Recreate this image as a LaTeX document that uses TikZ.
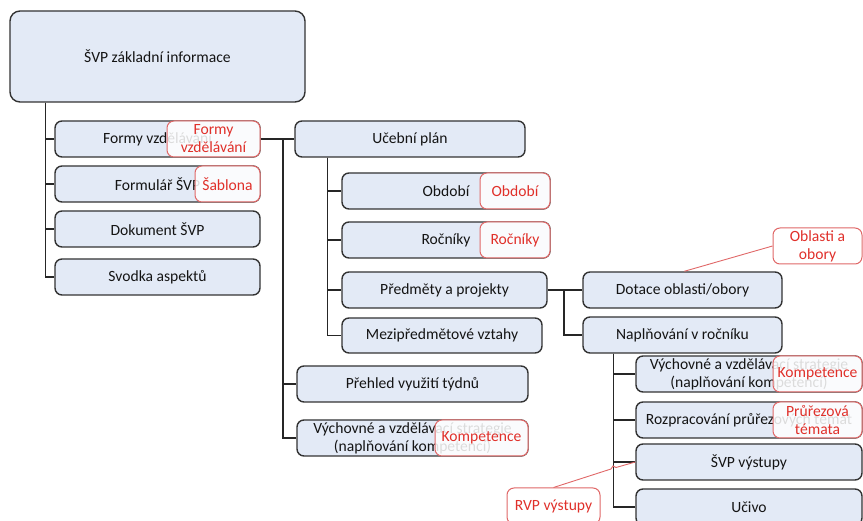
\documentclass[tikz,border=0pt]{standalone}
\usepackage{fontspec}
\setmainfont{Carlito}
\definecolor{boxfill}{HTML}{E3EAF6}
\definecolor{boxline}{HTML}{333333}
\definecolor{redtext}{HTML}{E0302A}
\definecolor{redline}{HTML}{E06868}
\begin{document}
\begin{tikzpicture}[x=1pt,y=-1pt,
  every node/.style={font=\fontsize{15.6}{18}\selectfont},
  box/.style={draw=boxline, fill=boxfill, line width=1.4pt, rounded corners=7pt, inner sep=0pt, align=center, text=black!92},
  callout/.style={draw=redline, fill=white, fill opacity=0.85, text opacity=1, line width=1pt, rounded corners=7pt, inner sep=0pt, align=center, text=redtext},
  conn/.style={draw=black!85, line width=1.4pt},
  redconn/.style={draw=redline, line width=0.9pt}]
\useasboundingbox (0,0) rectangle (863,521);

% main boxes
\node[box, rounded corners=10pt, minimum width=295pt, minimum height=91pt] (top) at (157.5,56.5) {ŠVP základní informace};
\node[box, minimum width=205pt, minimum height=36pt] (forms) at (157.5,139) {Formy vzdělávání};
\node[box, minimum width=205pt, minimum height=36pt] (formular) at (157.5,184) {Formulář ŠVP};
\node[box, minimum width=205pt, minimum height=36pt] (dokument) at (157.5,229) {Dokument ŠVP};
\node[box, minimum width=205pt, minimum height=36pt] (svodka) at (157.5,277) {Svodka aspektů};

\node[box, minimum width=230pt, minimum height=36pt] (ucebni) at (410,139) {Učební plán};
\node[box, minimum width=208pt, minimum height=36pt] (obdobi) at (446,191) {Období};
\node[box, minimum width=208pt, minimum height=36pt] (rocniky) at (446,240) {Ročníky};
\node[box, minimum width=205pt, minimum height=36pt] (predmety) at (444.5,290) {Předměty a projekty};
\node[box, minimum width=200pt, minimum height=35pt] (mezi) at (442,335.5) {Mezipředmětové vztahy};
\node[box, minimum width=231pt, minimum height=36pt] (prehled) at (412.5,384) {Přehled využití týdnů};
\node[box, minimum width=231pt, minimum height=36pt] (vychL) at (412.5,438) {Výchovné a vzdělávací strategie\\(naplňování kompetencí)};

\node[box, minimum width=199pt, minimum height=36pt] (dotace) at (682.5,290) {Dotace oblasti/obory};
\node[box, minimum width=199pt, minimum height=36pt] (napl) at (682.5,335) {Naplňování v ročníku};
\node[box, minimum width=226pt, minimum height=36pt] (vychR) at (749,374) {Výchovné a vzdělávací strategie\\(naplňování kompetencí)};
\node[box, minimum width=226pt, minimum height=36pt] (rozp) at (749,420) {Rozpracování průřezových témat};
\node[box, minimum width=226pt, minimum height=36pt] (svpv) at (749,462) {ŠVP výstupy};
\node[box, minimum width=226pt, minimum height=36pt] (ucivo) at (749,507) {Učivo};

% connectors
\draw[conn] ([xshift=36pt]top.south west) |- (forms.west);
\draw[conn] ([xshift=36pt]top.south west) |- (formular.west);
\draw[conn] ([xshift=36pt]top.south west) |- (dokument.west);
\draw[conn] ([xshift=36pt]top.south west) |- (svodka.west);

\draw[conn] (forms.east) -- (ucebni.west);
\coordinate (j1) at (283,139);
\draw[conn] (j1) |- (prehled.west);
\draw[conn] (j1) |- (vychL.west);

\draw[conn] ([xshift=33pt]ucebni.south west) |- (obdobi.west);
\draw[conn] ([xshift=33pt]ucebni.south west) |- (rocniky.west);
\draw[conn] ([xshift=33pt]ucebni.south west) |- (predmety.west);
\draw[conn] ([xshift=33pt]ucebni.south west) |- (mezi.west);

\draw[conn] (predmety.east) -- (dotace.west);
\coordinate (j2) at (564,290);
\draw[conn] (j2) |- (napl.west);

\draw[conn] ([xshift=31pt]napl.south west) |- (vychR.west);
\draw[conn] ([xshift=31pt]napl.south west) |- (rozp.west);
\draw[conn] ([xshift=31pt]napl.south west) |- (svpv.west);
\draw[conn] ([xshift=31pt]napl.south west) |- (ucivo.west);

% callouts
\node[callout, minimum width=93pt, minimum height=36pt] (cformy) at (213.5,139) {Formy\\vzdělávání};
\node[callout, minimum width=65pt, minimum height=36pt] (csablona) at (227.5,184) {Šablona};
\node[callout, minimum width=70pt, minimum height=36pt] (cobdobi) at (515,191) {Období};
\node[callout, minimum width=70pt, minimum height=36pt] (crocniky) at (515,240) {Ročníky};
\node[callout, minimum width=93pt, minimum height=36pt] (ckompL) at (481.5,438) {Kompetence};
\node[callout, minimum width=89pt, minimum height=36pt] (ckompR) at (817.5,374) {Kompetence};
\node[callout, minimum width=89pt, minimum height=36pt] (cprurez) at (817.5,420) {Průřezová\\témata};
\node[callout, minimum width=89pt, minimum height=36pt] (coblasti) at (817.5,246) {Oblasti a\\obory};
\node[callout, minimum width=93pt, minimum height=36pt] (crvp) at (553.5,506) {RVP výstupy};

\draw[redconn] (coblasti.west) -- ([xshift=102pt]dotace.north west);
\draw[redconn] (crvp.north) -- (611,469) -- (613,466) -- (616,467.5) -- (svpv.west);
\end{tikzpicture}
\end{document}
